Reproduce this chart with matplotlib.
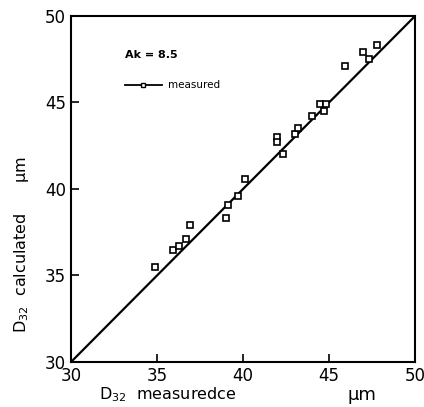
import matplotlib.pyplot as plt
from matplotlib.lines import Line2D

# measured vs calculated D32 (um)
d32_measured = [34.9, 35.9, 36.3, 36.7, 36.9, 39.0, 39.1, 39.7, 40.1,
                42.0, 42.0, 42.3, 43.0, 43.2, 44.0, 44.5, 44.8, 44.7,
                45.9, 47.0, 47.3, 47.8]
d32_calculated = [35.5, 36.5, 36.7, 37.1, 37.9, 38.3, 39.1, 39.6, 40.6,
                  43.0, 42.7, 42.0, 43.2, 43.5, 44.2, 44.9, 44.9, 44.5,
                  47.1, 47.9, 47.5, 48.3]
diag = [30, 50]
ticks = [30, 35, 40, 45, 50]

plt.rcParams['font.family'] = 'DejaVu Sans'

fig = plt.figure(figsize=(4.24, 4.07), dpi=100)
ax = fig.add_axes([0.1675, 0.1106, 0.8115, 0.8501])

# y = x reference line
ax.plot(diag, diag, color='black', linewidth=1.6)
ax.plot(d32_measured, d32_calculated, linestyle='none', marker='s',
        markersize=4, markerfacecolor='white', markeredgecolor='black',
        markeredgewidth=1.2)

ax.set_xlim(30, 50)
ax.set_ylim(30, 50)
ax.set_xticks(ticks)
ax.set_yticks(ticks)
ax.tick_params(direction='in', length=6, width=1.2, labelsize=12,
               top=False, right=False)
for s in ax.spines.values():
    s.set_linewidth(1.5)

ax.text(0.157, 0.887, 'Ak = 8.5', transform=ax.transAxes, fontsize=8,
        fontweight='bold', va='center')
handle = Line2D([], [], color='black', linewidth=1.3, marker='s', markersize=3.5,
                markerfacecolor='white', markeredgecolor='black')
ax.legend([handle], ['measured'], loc='center left',
          bbox_to_anchor=(0.13, 0.80), frameon=False, fontsize=7.5,
          handlelength=3.5, handletextpad=0.6)

ax.set_ylabel('D$_{32}$  calculated      µm', fontsize=11.5)
ax.yaxis.set_label_coords(-0.115, 0.34)
ax.text(0.28, -0.095, 'D$_{32}$  measuredce', transform=ax.transAxes,
        fontsize=11.5, ha='center', va='center')
ax.text(0.846, -0.095, 'µm', transform=ax.transAxes, fontsize=13,
        ha='center', va='center')

plt.savefig('out.png', dpi=100)
